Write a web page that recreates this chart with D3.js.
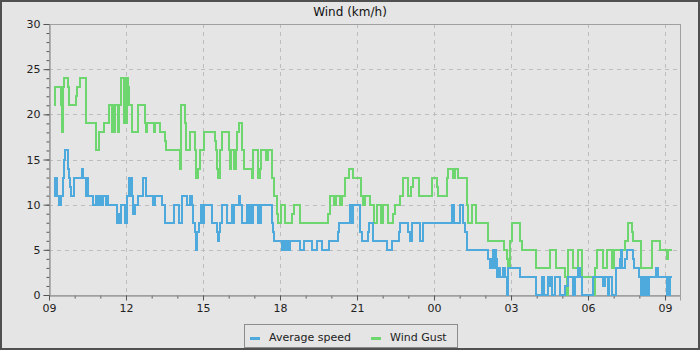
<!DOCTYPE html>
<html>
<head>
<meta charset="utf-8">
<script src="https://cdn.jsdelivr.net/npm/d3@7"></script>
<style>
body { margin: 0; background: #e5e5e5; }
svg { display: block; font-family: "DejaVu Sans", sans-serif; }
</style>
</head>
<body>
<svg id="chart" width="700" height="350"></svg>
<script>
// readings, HH:MM local time (runs past midnight into the next morning)
var gustTimes = [
  "09:11","09:13","09:15","09:29","09:31","09:33","09:35","09:44","09:47","10:04",
  "10:06","10:12","10:26","10:51","10:56","11:08","11:20","11:27","11:30","11:32",
  "11:34","11:41","11:44","11:48","11:55","11:57","12:00","12:02","12:05","12:07",
  "12:15","12:28","12:45","12:47","12:50","13:05","13:08","13:19","13:31","13:33",
  "14:06","14:09","14:19","14:20","14:30","14:42","14:43","14:48","14:53","15:02",
  "15:28","15:30","15:33","15:36","15:40","15:45","16:01","16:03","16:05","16:12",
  "16:16","16:20","16:24","16:32","16:36","16:54","16:58","17:09","17:13","17:16",
  "17:27","17:33","17:41","17:47","17:52","17:55","18:02","18:12","18:29","18:33",
  "18:47","19:53","19:57","20:07","20:11","20:20","20:24","20:32","20:42","20:51",
  "21:09","21:15","21:19","21:30","21:40","21:46","21:55","22:01","22:13","22:23",
  "22:29","22:40","22:48","23:00","23:06","23:10","23:26","23:55","00:06","00:10",
  "00:31","00:33","00:45","00:49","00:57","01:16","01:20","01:28","01:39","02:06",
  "02:44","02:50","02:52","02:58","03:02","03:21","03:25","03:59","04:31","04:45",
  "05:06","05:10","05:14","05:26","05:36","05:45","06:11","06:16","06:20","06:34",
  "06:44","06:55","07:01","07:27","07:34","07:42","07:46","08:04","08:30","08:48",
  "09:04","09:08","09:16"
];
var gustValues = [
  21,22,23,21,18,23,24,23,21,22,
  23,24,19,16,18,19,21,18,21,18,
  21,18,21,24,19,24,19,24,23,21,
  18,21,19,18,19,18,19,18,17,16,
  14,21,19,16,18,16,13,14,16,18,
  17,16,14,13,16,18,16,14,16,14,
  16,18,19,16,14,13,16,13,14,16,
  15,16,13,11,9,8,10,8,9,10,
  8,9,11,10,11,10,11,13,14,13,
  11,10,11,10,8,10,8,10,8,9,
  10,11,13,11,12,13,11,13,12,11,
  13,14,13,14,13,10,8,10,8,6,
  5,4,3,6,8,6,5,3,5,3,
  2,0,5,3,5,2,0,3,5,3,
  5,3,5,6,8,7,6,3,6,5,
  4,5,5
];

var avgTimes = [
  "09:12","09:14","09:16","09:18","09:23","09:29","09:33","09:35","09:38","09:45",
  "09:47","09:48","09:51","09:58","10:16","10:20","10:27","10:28","10:31","10:42",
  "10:51","10:53","10:55","10:58","11:00","11:02","11:06","11:14","11:16","11:18",
  "11:38","11:40","11:42","11:45","11:49","11:58","12:03","12:08","12:10","12:11",
  "12:13","12:17","12:21","12:28","12:40","12:47","13:02","13:05","13:06","13:08",
  "13:23","13:31","13:52","14:05","14:10","14:12","14:23","14:30","14:34","14:37",
  "14:41","14:44","14:47","14:51","14:55","14:57","14:58","15:01","15:02","15:20",
  "15:32","15:36","15:38","15:40","15:44","15:57","16:07","16:10","16:12","16:23",
  "16:26","16:30","16:42","16:46","16:50","16:55","16:58","17:08","17:11","17:13",
  "17:16","17:41","17:44","17:47","18:05","18:08","18:10","18:12","18:16","18:18",
  "18:20","18:23","18:47","18:55","19:14","19:26","19:38","19:55","20:16","20:19",
  "20:44","20:48","20:50","21:07","21:11","21:26","21:28","21:37","22:09","22:21",
  "22:39","22:41","23:00","23:04","23:09","23:27","23:35","00:41","00:47","01:01",
  "01:07","01:13","01:16","02:07","02:11","02:16","02:19","02:20","02:23","02:25",
  "02:28","02:32","02:34","02:41","02:46","02:51","02:54","03:22","03:59","04:12",
  "04:16","04:27","04:29","04:31","04:35","04:43","04:55","05:06","05:14","05:26",
  "05:30","05:37","05:41","05:46","06:12","06:34","06:40","06:47","06:49","06:55",
  "07:05","07:15","07:17","07:19","07:26","07:31","07:44","07:47","07:58","08:04",
  "08:09","08:11","08:16","08:18","08:23","08:39","08:44","09:04","09:07","09:09",
  "09:12","09:16"
];
var avgValues = [
  13,11,13,11,10,11,13,15,16,14,
  13,12,11,13,14,13,11,13,11,10,
  11,10,11,10,11,10,11,10,11,10,
  9,8,9,8,10,8,11,13,11,13,
  11,9,10,11,13,11,10,11,10,11,
  10,8,10,8,10,11,10,11,10,8,
  7,5,7,8,10,8,10,8,10,8,
  7,6,7,8,10,8,10,8,10,11,
  10,8,10,8,10,8,10,8,10,8,
  10,8,7,6,5,6,5,6,5,6,
  5,6,5,6,5,6,5,6,7,8,
  10,8,10,7,6,7,8,6,5,6,
  7,8,7,6,8,6,8,10,8,10,
  8,7,5,4,3,4,5,3,5,4,
  2,3,2,3,2,0,3,2,0,2,
  0,2,1,2,0,2,0,1,2,0,
  2,3,2,0,2,1,2,0,2,0,
  3,4,5,3,4,5,4,3,2,0,
  2,0,2,0,2,3,2,0,2,0,
  2,2
];

var seriesNames = ["Average speed", "Wind Gust"];
var seriesColors = ["#4ea9dc", "#6ed66e"];
var yTicks = [0, 5, 10, 15, 20, 25, 30];

var W = 700, H = 350;
var plotL = 49, plotR = 680, plotT = 24, plotB = 295;

// turn HH:MM strings into dates, stepping to the next day after midnight
function toDates(times) {
  var day = 0, prev = -1;
  return times.map(function(t) {
    var p = t.split(":"), m = (+p[0]) * 60 + (+p[1]);
    if (m < prev) day++;
    prev = m;
    return new Date(2024, 0, 1 + day, +p[0], +p[1]);
  });
}

var start = new Date(2024, 0, 1, 9, 0);
var end = new Date(2024, 0, 2, 9, 35);

var x = d3.scaleTime().domain([start, end]).range([plotL, plotR]);
var y = d3.scaleLinear().domain([0, 30]).range([plotB, plotT]);

var svg = d3.select("#chart");

svg.append("rect")
  .attr("x", 1).attr("y", 1).attr("width", W - 2).attr("height", H - 2)
  .style("fill", "#e5e5e5").style("stroke", "#505050").style("stroke-width", 2);

svg.append("text")
  .attr("x", W / 2).attr("y", 16)
  .attr("text-anchor", "middle")
  .style("font-size", "12px").style("fill", "#111")
  .text("Wind (km/h)");

// major times every 3 hours, 09 .. 09 next day
var majorTimes = d3.timeHour.every(3).range(start, end);

// gridlines
svg.append("g").selectAll("line").data(majorTimes.slice(1)).enter().append("line")
  .attr("x1", function(d) { return Math.round(x(d)) + 0.5; })
  .attr("x2", function(d) { return Math.round(x(d)) + 0.5; })
  .attr("y1", plotT).attr("y2", plotB)
  .style("stroke", "#bdbdbd").style("stroke-dasharray", "4,4");

svg.append("g").selectAll("line").data(yTicks.slice(1, -1)).enter().append("line")
  .attr("x1", plotL).attr("x2", plotR)
  .attr("y1", function(d) { return Math.round(y(d)) + 0.5; })
  .attr("y2", function(d) { return Math.round(y(d)) + 0.5; })
  .style("stroke", "#bdbdbd").style("stroke-dasharray", "4,4");

// plot frame
svg.append("rect")
  .attr("x", plotL + 0.5).attr("y", plotT + 0.5)
  .attr("width", plotR - plotL).attr("height", plotB - plotT)
  .style("fill", "none").style("stroke", "#a0a0a0");

// y axis
var yAxis = d3.axisLeft(y).tickValues(yTicks).tickSize(6).tickPadding(3);
var yMinor = d3.axisLeft(y).tickValues(d3.range(0, 31)).tickSize(3).tickFormat("");
svg.append("g").attr("transform", "translate(" + (plotL + 0.5) + ",0)").call(yMinor);
svg.append("g").attr("transform", "translate(" + (plotL + 0.5) + ",0)").call(yAxis);

// x axis
var xAxis = d3.axisBottom(x).tickValues(majorTimes).tickSize(5).tickPadding(4)
  .tickFormat(d3.timeFormat("%H"));
var xMinor = d3.axisBottom(x).tickValues(d3.timeHour.every(1).range(start, end)).tickSize(3).tickFormat("");
svg.append("g").attr("transform", "translate(0," + (plotB + 0.5) + ")").call(xMinor);
svg.append("g").attr("transform", "translate(0," + (plotB + 0.5) + ")").call(xAxis);

svg.selectAll(".domain").style("stroke", "#a0a0a0");
svg.selectAll(".tick line").style("stroke", "#555");
svg.selectAll(".tick text").style("font-size", "11px").style("fill", "#222")
  .style("font-family", "DejaVu Sans, sans-serif");

// series
svg.append("clipPath").attr("id", "plotclip").append("rect")
  .attr("x", plotL).attr("y", plotT - 2).attr("width", plotR - plotL).attr("height", plotB - plotT + 4);

var line = d3.line()
  .x(function(d) { return x(d.t); })
  .y(function(d) { return y(d.v); })
  .curve(d3.curveStepAfter);

function build(times, values) {
  var dates = toDates(times);
  return dates.map(function(t, i) { return { t: t, v: values[i], c: 0 }; });
}

var avgData = build(avgTimes, avgValues);
var gustData = build(gustTimes, gustValues);

svg.append("g").attr("clip-path", "url(#plotclip)")
  .selectAll("path").data([[gustData, seriesColors[1]], [avgData, seriesColors[0]]]).enter().append("path")
  .attr("d", function(d) { return line(d[0]); })
  .style("fill", "none")
  .style("stroke", function(d) { return d[1]; })
  .style("stroke-width", 2)
  .style("shape-rendering", "crispEdges");

// legend
var legend = svg.append("g");
legend.append("rect")
  .attr("x", 244.5).attr("y", 324.5).attr("width", 213).attr("height", 23)
  .style("fill", "#e5e5e5").style("stroke", "#8c8c8c");

var legendX = [250, 371];
legend.selectAll("line").data(seriesNames).enter().append("line")
  .attr("x1", function(d, i) { return legendX[i]; })
  .attr("x2", function(d, i) { return legendX[i] + 10; })
  .attr("y1", 338.5).attr("y2", 338.5)
  .style("stroke", function(d, i) { return seriesColors[i]; })
  .style("stroke-width", 3);

legend.selectAll("text").data(seriesNames).enter().append("text")
  .attr("x", function(d, i) { return legendX[i] + 19; })
  .attr("y", 341)
  .style("font-size", "11px").style("fill", "#222")
  .text(function(d) { return d; });
</script>
</body>
</html>
